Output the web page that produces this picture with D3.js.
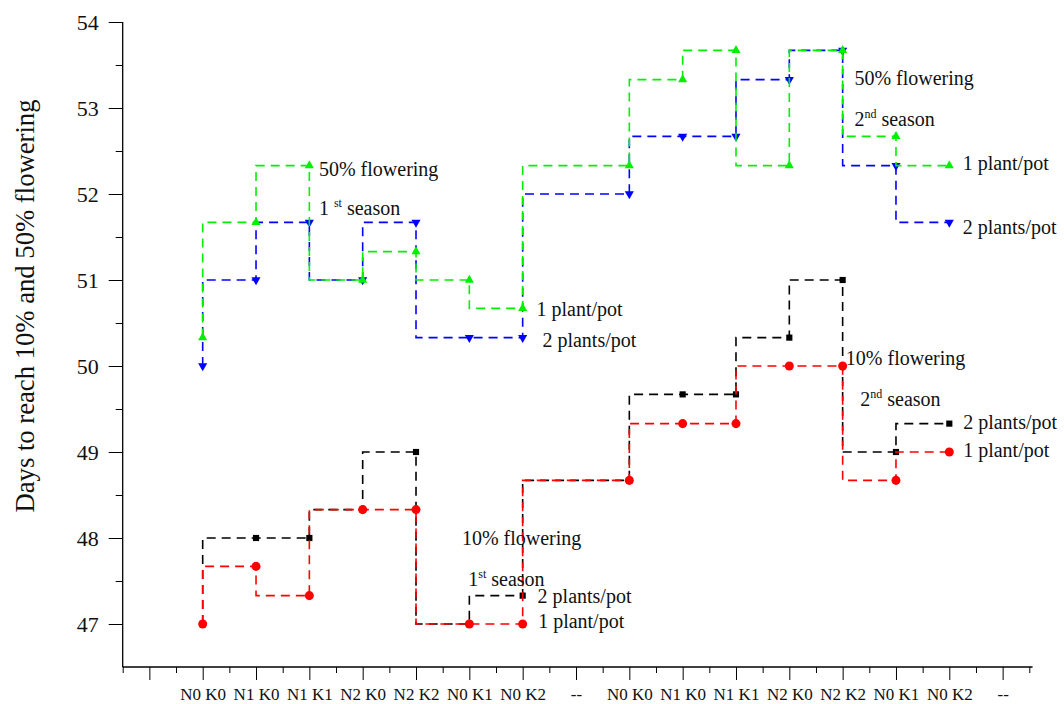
<!DOCTYPE html>
<html>
<head>
<meta charset="utf-8">
<script src="https://cdn.jsdelivr.net/npm/d3@7"></script>
<style>
  body { margin: 0; background: #fff; }
  svg { display: block; }
  text { font-family: "Liberation Serif", "Times New Roman", serif; fill: #111; }
</style>
</head>
<body>
<div id="chart"></div>
<script>
// x positions are tick indices; index 0 has no label, 8 and 16 are "--" separators
var tickLabels = ["", "N0 K0", "N1 K0", "N1 K1", "N2 K0", "N2 K2", "N0 K1", "N0 K2", "--",
                  "N0 K0", "N1 K0", "N1 K1", "N2 K0", "N2 K2", "N0 K1", "N0 K2", "--"];
var season1Idx = [1, 2, 3, 4, 5, 6, 7];
var season2Idx = [9, 10, 11, 12, 13, 14, 15];

// days to 10% flowering
var tenOnePlantS1 = [47, 47.67, 47.33, 48.33, 48.33, 47, 47];
var tenOnePlantS2 = [48.67, 49.33, 49.33, 50, 50, 48.67, 49];
var tenTwoPlantsS1 = [47, 48, 48, 48.33, 49, 47, 47.33];
var tenTwoPlantsS2 = [48.67, 49.67, 49.67, 50.33, 51, 49, 49.33];
// days to 50% flowering
var fiftyOnePlantS1 = [50.33, 51.67, 52.33, 51, 51.33, 51, 50.67];
var fiftyOnePlantS2 = [52.33, 53.33, 53.67, 52.33, 53.67, 52.67, 52.33];
var fiftyTwoPlantsS1 = [50, 51, 51.67, 51, 51.67, 50.33, 50.33];
var fiftyTwoPlantsS2 = [52, 52.67, 52.67, 53.33, 53.67, 52.33, 51.67];

var yTicks = [47, 48, 49, 50, 51, 52, 53, 54];

var W = 1064, H = 704;
var svg = d3.select("#chart").append("svg").attr("width", W).attr("height", H);

var x = d3.scaleLinear().domain([-0.5, 16.56]).range([122.7, 1032.5]);
var y = d3.scaleLinear().domain([46.5, 54]).range([667, 22]);

function join(a, b) {
    return season1Idx.map(function (i, k) { return [i, a[k]]; })
        .concat(season2Idx.map(function (i, k) { return [i, b[k]]; }));
}

var series = [
    { name: "10% 2 plants/pot", color: "#000000", sym: d3.symbolSquare, size: 38, rot: 0, pts: join(tenTwoPlantsS1, tenTwoPlantsS2) },
    { name: "10% 1 plant/pot", color: "#ff0000", sym: d3.symbolCircle, size: 64, rot: 0, pts: join(tenOnePlantS1, tenOnePlantS2) },
    { name: "50% 2 plants/pot", color: "#0000ff", sym: d3.symbolTriangle, size: 36, rot: 180, pts: join(fiftyTwoPlantsS1, fiftyTwoPlantsS2) },
    { name: "50% 1 plant/pot", color: "#00f000", sym: d3.symbolTriangle, size: 36, rot: 0, pts: join(fiftyOnePlantS1, fiftyOnePlantS2) }
];

// axes
var gx = svg.append("g").attr("transform", "translate(0,667)");
gx.call(d3.axisBottom(x).tickValues(d3.range(0, 17)).tickSize(13).tickFormat(function (d) { return tickLabels[d]; }));
gx.append("g").call(d3.axisBottom(x).tickValues(d3.range(-0.5, 17, 1)).tickSize(6).tickFormat(""));
gx.selectAll(".domain").attr("d", "M" + x(-0.5) + ",0H" + x(16.56)).attr("stroke", "#000");
gx.selectAll("text").attr("font-size", 17).attr("y", 21).attr("dy", "0.71em")
    .style("font-family", "'Liberation Serif', serif").attr("fill", "#111");
gx.selectAll("line").attr("stroke", "#000");

var gy = svg.append("g").attr("transform", "translate(" + x(-0.5) + ",0)");
gy.call(d3.axisLeft(y).tickValues(yTicks).tickSize(14).tickFormat(d3.format("d")));
gy.append("g").call(d3.axisLeft(y).tickValues(d3.range(47.5, 54, 1)).tickSize(7).tickFormat(""));
gy.selectAll(".domain").attr("d", "M0," + y(54) + "V" + y(46.5)).attr("stroke", "#000");
gy.selectAll("text").attr("font-size", 22).attr("x", -24)
    .style("font-family", "'Liberation Serif', serif").attr("fill", "#111");
gy.selectAll("line").attr("stroke", "#000");

svg.append("text")
    .attr("transform", "translate(34,306) rotate(-90)")
    .attr("text-anchor", "middle")
    .attr("font-size", 27)
    .attr("textLength", 413)
    .attr("lengthAdjust", "spacingAndGlyphs")
    .text("Days to reach 10% and 50% flowering");

// step lines
var line = d3.line()
    .x(function (d) { return x(d[0]); })
    .y(function (d) { return y(d[1]); })
    .curve(d3.curveStepBefore);

series.forEach(function (s) {
    var g = svg.append("g");
    g.append("path")
        .attr("d", line(s.pts))
        .attr("fill", "none")
        .attr("stroke", s.color)
        .attr("stroke-width", 1.6)
        .attr("stroke-dasharray", "9,6");
    g.selectAll("path.pt").data(s.pts).enter().append("path")
        .attr("class", "pt")
        .attr("d", d3.symbol().type(s.sym).size(s.size))
        .attr("fill", s.color)
        .attr("transform", function (d) {
            return "translate(" + x(d[0]) + "," + y(d[1]) + ") rotate(" + s.rot + ")";
        });
});

// annotations, placed in data coordinates
var notes = [
    { t: "50% flowering", i: 3.18, v: 52.21 },
    { t: "1", sup: "st", rest: " season", gap: true, i: 3.18, v: 51.76 },
    { t: "1 plant/pot", i: 7.26, v: 50.58 },
    { t: "2 plants/pot", i: 7.37, v: 50.22 },
    { t: "50% flowering", i: 13.22, v: 53.27 },
    { t: "2", sup: "nd", rest: " season", i: 13.22, v: 52.79 },
    { t: "1 plant/pot", i: 15.25, v: 52.28 },
    { t: "2 plants/pot", i: 15.25, v: 51.53 },
    { t: "10% flowering", i: 13.06, v: 50.01 },
    { t: "2", sup: "nd", rest: " season", i: 13.33, v: 49.53 },
    { t: "2 plants/pot", i: 15.26, v: 49.27 },
    { t: "1 plant/pot", i: 15.26, v: 48.94 },
    { t: "10% flowering", i: 5.86, v: 47.92 },
    { t: "1", sup: "st", rest: " season", i: 5.98, v: 47.44 },
    { t: "2 plants/pot", i: 7.28, v: 47.24 },
    { t: "1 plant/pot", i: 7.29, v: 46.95 }
];

notes.forEach(function (n) {
    var t = svg.append("text")
        .attr("x", x(n.i))
        .attr("y", y(n.v))
        .attr("font-size", 20);
    t.append("tspan").text(n.gap ? n.t + " " : n.t);
    if (n.sup) {
        t.append("tspan").attr("font-size", 12).attr("dy", -8).text(n.sup);
        t.append("tspan").attr("dy", 8).text(n.rest);
    }
});
</script>
</body>
</html>
